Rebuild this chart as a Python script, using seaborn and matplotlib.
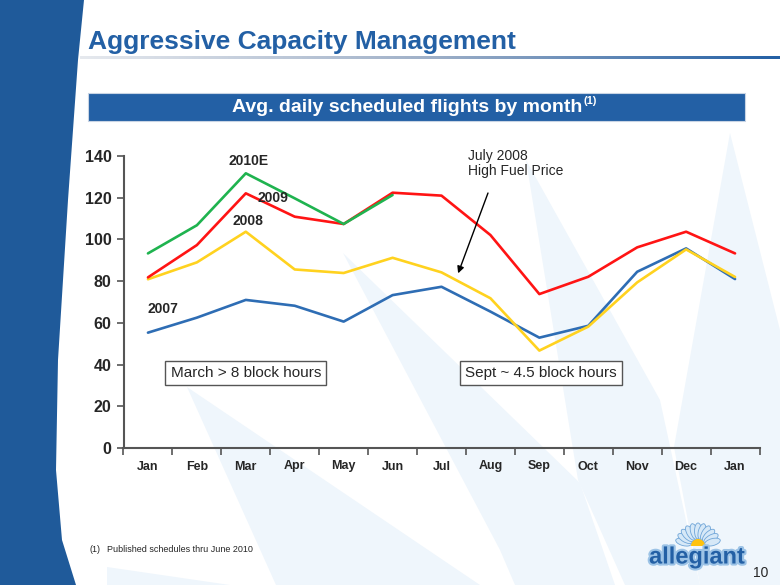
import numpy as np
import pandas as pd
import seaborn as sns
import matplotlib.pyplot as plt
import matplotlib.patheffects as pe
from matplotlib.patches import Polygon, Rectangle, Wedge, Ellipse

# chart data
months = ['Jan', 'Feb', 'Mar', 'Apr', 'May', 'Jun', 'Jul', 'Aug', 'Sep', 'Oct', 'Nov', 'Dec', 'Jan']
y2007 = [55.3, 62.5, 71.0, 68.2, 60.6, 73.3, 77.3, 65.4, 52.9, 58.6, 84.5, 95.7, 81.0]
y2008 = [80.9, 89.0, 103.7, 85.6, 83.9, 91.2, 84.2, 71.8, 46.7, 58.2, 79.4, 95.2, 82.0]
y2009 = [81.8, 97.3, 122.1, 110.9, 107.4, 122.4, 121.0, 102.1, 73.8, 82.1, 96.2, 103.7, 93.3]
y2010 = [93.3, 106.8, 131.7, 119.7, 107.4, 121.3] + [np.nan] * 7

series = {'2007': (y2007, '#2e6db4'), '2008': (y2008, '#ffd21f'),
          '2009': (y2009, '#ff1414'), '2010E': (y2010, '#1fb34f')}

sns.set_style('white')
plt.rcParams['font.family'] = ['Liberation Sans', 'DejaVu Sans']

W, H = 780, 585
fig = plt.figure(figsize=(7.8, 5.85), dpi=100)

# background layer in pixel coordinates
bg = fig.add_axes([0, 0, 1, 1], zorder=-10)
bg.axis('off')

ray_col = '#eff6fc'
rays = [
    [(730, 133), (674, 447), (700, 585), (780, 585), (780, 330)],
    [(526, 160), (578, 480), (625, 585), (700, 585), (660, 400)],
    [(343, 253), (500, 550), (515, 585), (615, 585), (580, 483)],
    [(187, 387), (276, 585), (480, 585)],
    [(107, 567), (230, 585), (107, 585)],
]
for pts in rays:
    bg.add_patch(Polygon(pts, closed=True, facecolor=ray_col, edgecolor='none'))

band = [(0, 0), (84, 0), (78, 60), (68, 200), (58, 360), (56, 470), (62, 540), (76, 585), (0, 585)]
bg.add_patch(Polygon(band, closed=True, facecolor='#1f5a9a', edgecolor='none'))

# title underline gradient
grad = np.linspace(0, 1, 256).reshape(1, -1)
bg.imshow(grad, extent=(80, 780, 59.5, 56.5), aspect='auto',
          cmap=sns.blend_palette(['#e6e9ee', '#9fb0c8', '#2360a5'], as_cmap=True))

# banner
bg.add_patch(Rectangle((88, 93), 657, 28, facecolor='#2360a5', edgecolor='#c8d4e4', lw=0.8))

# logo flower
for ang in np.linspace(195, 345, 11):
    r = np.deg2rad(ang)
    bg.add_patch(Ellipse((698 + 15 * np.cos(r), 546 + 15 * np.sin(r)), 7, 16, angle=ang + 90,
                         facecolor='#d6e8f7', edgecolor='#6fa5d8', lw=0.6))
bg.add_patch(Wedge((698, 546), 7, 180, 360, facecolor='#ffc20e', edgecolor='none'))
bg.set_xlim(0, W)
bg.set_ylim(H, 0)

fig.text(88 / W, 1 - 42 / H, 'Aggressive Capacity Management', fontsize=19, fontweight='bold',
         color='#2360a5', va='center', ha='left')
fig.text(582 / W, 1 - 107 / H, 'Avg. daily scheduled flights by month', fontsize=14,
         fontweight='bold', color='white', ha='right', va='center')
fig.text(583 / W, 1 - 101 / H, '(1)', fontsize=8, fontweight='bold', color='white',
         ha='left', va='center')

# chart
ax = fig.add_axes([123.5 / W, 1 - 448 / H, 636 / W, 292 / H])
ax.patch.set_alpha(0)
x = np.arange(len(months))
for name, (vals, col) in series.items():
    sns.lineplot(x=x, y=vals, color=col, linewidth=1.9, ax=ax)

ax.set_xlim(-0.5, len(months) - 0.5)
ax.set_ylim(0, 140)
ax.set_yticks(range(0, 141, 20))
ax.set_xticks(x)
ax.set_xticklabels(months, fontsize=9, fontweight='bold')
ax.set_xticks(np.arange(-0.5, len(months), 1), minor=True)
ax.tick_params(axis='x', which='major', bottom=True, length=0, pad=9)
ax.tick_params(axis='x', which='minor', bottom=True, length=5, width=1.2, color='#555555', direction='out')
ax.tick_params(axis='y', left=True, length=5, width=1.2, color='#555555', direction='out', labelsize=11.5)
for lab in ax.get_yticklabels():
    lab.set_fontweight('bold')
for s in ['top', 'right']:
    ax.spines[s].set_visible(False)
for s in ['left', 'bottom']:
    ax.spines[s].set_color('#555555')
    ax.spines[s].set_linewidth(1.5)

# series labels
for txt, xx, yy in [('2010E', 2.05, 137.6), ('2009', 2.55, 119.8), ('2008', 2.05, 108.8), ('2007', 0.3, 66.6)]:
    ax.text(xx, yy, txt, fontsize=10, fontweight='bold', ha='center', va='center')

ax.text(6.55, 136.6, 'July 2008\nHigh Fuel Price', fontsize=10, ha='left', va='center', linespacing=1.1)
ax.annotate('', xy=(6.32, 82.5), xytext=(6.97, 123.5),
            arrowprops=dict(arrowstyle='-|>', color='black', lw=1, mutation_scale=10))

box = dict(boxstyle='square,pad=0.35', facecolor='white', edgecolor='#555555', lw=1)
ax.text(2.0, 36, 'March > 8 block hours', fontsize=11, ha='center', va='center', bbox=box)
ax.text(8.04, 36, 'Sept ~ 4.5 block hours', fontsize=11, ha='center', va='center', bbox=box)

# footer
fig.text(89 / W, 1 - 549 / H, '(1)', fontsize=6.5, va='center')
fig.text(107 / W, 1 - 549 / H, 'Published schedules thru June 2010', fontsize=6.5, va='center')
fig.text(697 / W, 1 - 557 / H, 'allegiant', fontsize=17, fontweight='bold',
         color='#2360a5', ha='center', va='center',
         path_effects=[pe.withStroke(linewidth=3, foreground='#9cc3e6')])
fig.text(768 / W, 1 - 573 / H, '10', fontsize=10, ha='right', va='center')

fig.savefig('out.png', dpi=100)
